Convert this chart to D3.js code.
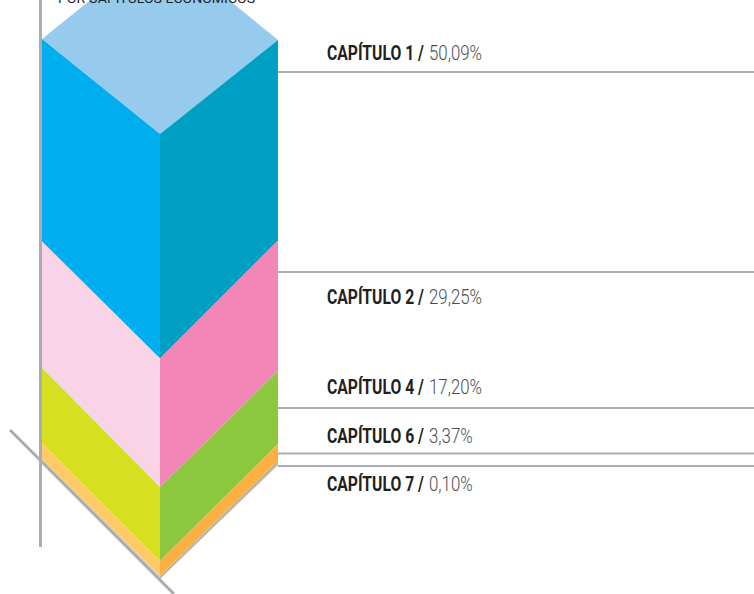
<!DOCTYPE html>
<html><head><meta charset="utf-8">
<script src="https://cdnjs.cloudflare.com/ajax/libs/d3/7.8.5/d3.min.js"></script>
<style>html,body{margin:0;padding:0;background:#fff;overflow:hidden}svg{display:block}</style>
</head><body><svg id="c" width="754" height="594"></svg>
<script>
const chapters = ["CAPÍTULO 1", "CAPÍTULO 2", "CAPÍTULO 4", "CAPÍTULO 6", "CAPÍTULO 7"];
const values = [50.09, 29.25, 17.20, 3.37, 0.10];
const valueLabels = ["50,09%", "29,25%", "17,20%", "3,37%", "0,10%"];
const leftColors = ["#00aeef", "#f9d3e6", "#d7df21", "#ffc966", "#d9cfc0"];
const rightColors = ["#00a0c4", "#f287b7", "#8dc63f", "#fbb040", "#c2b59b"];
const title = "POR CAPÍTULOS ECONÓMICOS";

const svg = d3.select("#c");
const cum = [0]; values.forEach(v => cum.push(+(cum[cum.length-1] + v).toFixed(2)));

const x = d3.scalePoint().domain(["left","center","right"]).range([42, 278]);
const yLeft = d3.scaleLinear().domain(cum).range([39, 241.5, 368, 443, 459, 462]);
const yCenter = d3.scaleLinear().domain(cum).range([134, 358.5, 487, 561, 576, 579]);
const yRight = d3.scaleLinear().domain(cum).range([40, 240.5, 371, 444, 460, 465]);
const yLeader = d3.scaleLinear().domain(cum.slice(0,5)).range([72, 272, 408, 453.5, 466]);
const labelOffset = d3.scaleOrdinal().domain(chapters).range([-12, 32, -14, -10.5, 24.5]);

const poly = pts => pts.map(p => p.join(",")).join(" ");

svg.append("line").attr("x1",40.5).attr("x2",40.5).attr("y1",0).attr("y2",547)
  .attr("stroke","#abacb0").attr("stroke-width",3);

svg.append("polygon").attr("points", poly([
  [x("left"),yLeft(0)],[x("center"),yCenter(0)],[x("right"),yRight(0)],[x("center"),-56]
])).attr("fill","#97cbee");

// Title, cut by the top of the picture as in the reference
svg.append("text").attr("x",58).attr("y",3).text(title)
  .attr("font-family","Roboto,sans-serif").attr("font-weight",400)
  .attr("font-size",13).attr("textLength",197).attr("lengthAdjust","spacingAndGlyphs")
  .attr("fill","#231f20");

const layers = values.map((v,i)=>({i,a:cum[i],b:cum[i+1]}));
svg.selectAll("polygon.l").data(layers).join("polygon").attr("class","l")
  .attr("points", d=>poly([[x("left"),yLeft(d.a)],[x("center"),yCenter(d.a)],[x("center"),yCenter(d.b)],[x("left"),yLeft(d.b)]]))
  .attr("fill", d=>leftColors[d.i]);
svg.selectAll("polygon.r").data(layers).join("polygon").attr("class","r")
  .attr("points", d=>poly([[x("center"),yCenter(d.a)],[x("right"),yRight(d.a)],[x("right"),yRight(d.b)],[x("center"),yCenter(d.b)]]))
  .attr("fill", d=>rightColors[d.i]);

svg.append("line").attr("x1",10).attr("y1",430).attr("x2",174).attr("y2",594)
  .attr("stroke","#abacb0").attr("stroke-width",3);

svg.selectAll("line.lead").data(layers).join("line").attr("class","lead")
  .attr("x1",278).attr("x2",754)
  .attr("y1",d=>yLeader(d.a)).attr("y2",d=>yLeader(d.a))
  .attr("stroke","#abacb0").attr("stroke-width",2);

// Condensed labels: one horizontal squeeze per style, measured on the first label
function squeezed(cls, xPos, weight, fill, str, targetWidth) {
  const sel = svg.selectAll("text."+cls).data(layers).join("text").attr("class",cls)
    .attr("font-family","Roboto,sans-serif").attr("font-weight",weight)
    .attr("font-size",19.5).attr("fill",fill).text(d=>str(d.i));
  const k = targetWidth / sel.node().getComputedTextLength();
  sel.attr("transform", d=>`translate(${xPos},${yLeader(d.a)+labelOffset(chapters[d.i])}) scale(${k},1)`);
}
squeezed("bold", 327, 700, "#231f20", i=>chapters[i]+" /", 97);
squeezed("val", 429, 300, "#4d4d4f", i=>valueLabels[i], 53);
</script></body></html>
